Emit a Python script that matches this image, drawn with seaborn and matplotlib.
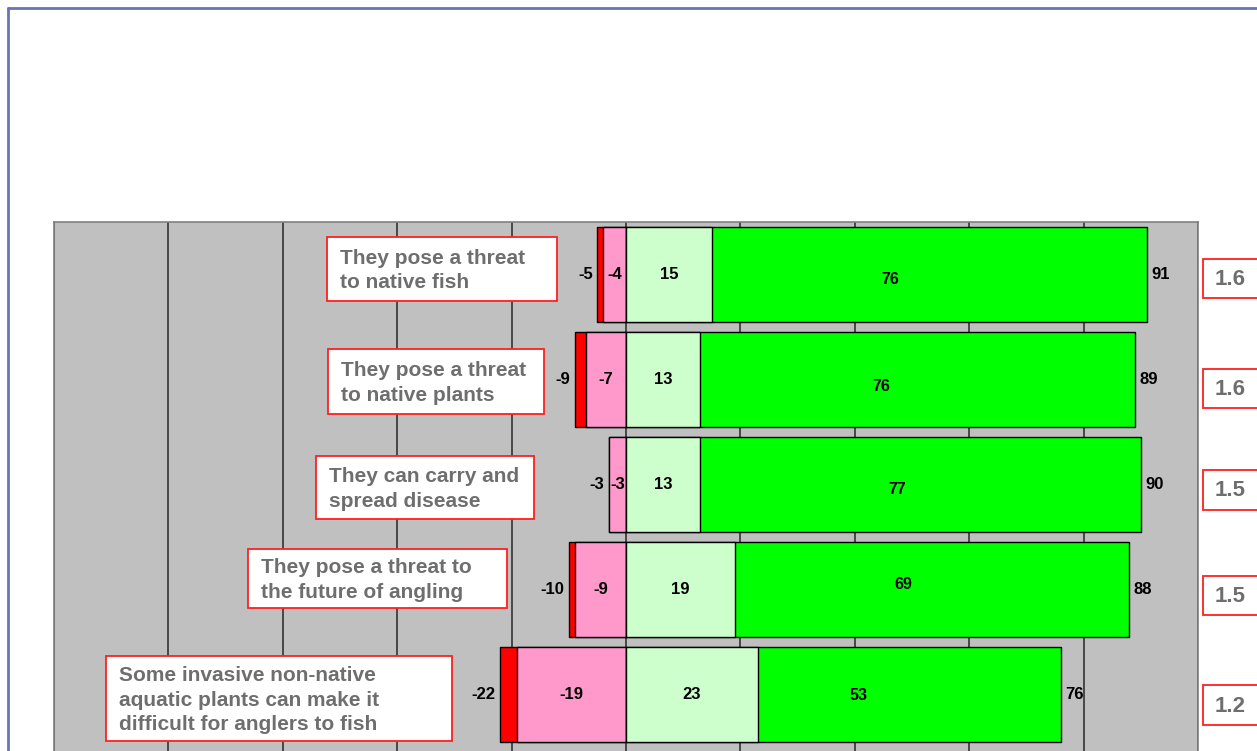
import matplotlib
matplotlib.use("Agg")
import matplotlib.pyplot as plt
import seaborn as sns
import pandas as pd
from matplotlib.patches import Rectangle
from matplotlib.lines import Line2D

# ---- data ----
statements = [
    "They pose a threat\nto native fish",
    "They pose a threat\nto native plants",
    "They can carry and\nspread disease",
    "They pose a threat to\nthe future of angling",
    "Some invasive non-native\naquatic plants can make it\ndifficult for anglers to fish",
]
strongly_disagree = [1, 2, 0, 1, 3]
disagree = [4, 7, 3, 9, 19]
agree = [15, 13, 13, 19, 23]
strongly_agree = [76, 76, 77, 69, 53]
mean_scores = ["1.6", "1.6", "1.5", "1.5", "1.2"]

df = pd.DataFrame({
    "statement": statements,
    "sd": strongly_disagree,
    "d": disagree,
    "a": agree,
    "sa": strongly_agree,
})
df["neg_total"] = -(df["sd"] + df["d"])
df["neg_d"] = -df["d"]
df["pos_total"] = df["a"] + df["sa"]

W, H = 1257, 751
sns.set_theme(style="white")
plt.rcParams["font.family"] = ["Liberation Sans", "DejaVu Sans"]

fig = plt.figure(figsize=(W / 100, H / 100), dpi=100)
fig.patch.set_facecolor("white")

def fx(px):
    return px / W

def fy(py):
    return 1 - py / H

ax_left, ax_right, ax_top, ax_bot = 54, 1198, 222, 760
ax = fig.add_axes([fx(ax_left), fy(ax_bot), fx(ax_right - ax_left), (ax_bot - ax_top) / H])
ax.set_facecolor("#C0C0C0")

bw = 95 / 105
common = dict(y="statement", orient="h", edgecolor="black", linewidth=1,
              width=bw, saturation=1, ax=ax, zorder=3)
sns.barplot(data=df, x="neg_total", color="#FF0000", **common)
sns.barplot(data=df, x="neg_d", color="#FF99CC", **common)
sns.barplot(data=df, x="pos_total", color="#00FF00", **common)
sns.barplot(data=df, x="a", color="#CCFFCC", **common)

ax.set_xlim(-100, 100)
ax.set_ylim(-0.5 + (ax_bot - ax_top) / 105, -0.5)
ax.set_xticks(range(-100, 101, 20))
ax.set_xticklabels([])
ax.set_yticks([])
ax.set_xlabel("")
ax.set_ylabel("")
ax.tick_params(length=0)
ax.grid(axis="x", color="#333333", linewidth=1.2, zorder=0)
ax.set_axisbelow(True)
for s in ax.spines.values():
    s.set_color("#808080")
    s.set_linewidth(1.2)

# ---- value labels ----
sa_dx = [-6.8, -6.3, -4.0, -5.0, -8.8]
sa_dy = [0.043, 0.062, 0.052, -0.052, 0.014]
vkw = dict(fontsize=12, fontweight="bold", color="black", zorder=5, va="center")
for i, row in df.iterrows():
    ax.text(row["neg_total"] - 0.8, i, f"{row['neg_total']}", ha="right", **vkw)
    ax.text(row["neg_d"] / 2, i, f"{row['neg_d']}", ha="center", **vkw)
    ax.text(row["a"] / 2, i, f"{row['a']}", ha="center", **vkw)
    ax.text(row["a"] + row["sa"] / 2 + sa_dx[i], i + sa_dy[i], f"{row['sa']}",
            ha="center", va="center", fontsize=11.5, fontweight="bold", color="black", zorder=5)
    ax.text(row["pos_total"] + 0.8, i, f"{row['pos_total']}", ha="left", **vkw)

# ---- statement boxes (pixel layout) ----
label_boxes = [
    (327, 237, 557, 301),
    (328, 349, 544, 414),
    (316, 456, 534, 519),
    (248, 549, 507, 608),
    (106, 656, 452, 741),
]
for text, (x0, y0, x1, y1) in zip(statements, label_boxes):
    fig.patches.append(Rectangle((fx(x0), fy(y1)), fx(x1 - x0), (y1 - y0) / H,
                                 transform=fig.transFigure, facecolor="white",
                                 edgecolor="#FF2020", linewidth=1.3, zorder=10))
    fig.text(fx(x0 + 13), fy((y0 + y1) / 2 + 1.5), text, ha="left", va="center",
             fontsize=15, fontweight="bold", color="#6E6E6E", linespacing=1.36, zorder=11)

# ---- mean score boxes ----
mean_boxes = [(259, 298), (369, 408), (470, 510), (576, 615), (685, 725)]
for val, (y0, y1) in zip(mean_scores, mean_boxes):
    fig.patches.append(Rectangle((fx(1203), fy(y1)), fx(80), (y1 - y0) / H,
                                 transform=fig.transFigure, facecolor="white",
                                 edgecolor="#FF2020", linewidth=1.3, zorder=10))
    fig.text(fx(1215), fy((y0 + y1) / 2 + 1), val, ha="left", va="center",
             fontsize=16, fontweight="bold", color="#6E6E6E", zorder=11)

# ---- outer frame (left and top only visible) ----
fig.lines.append(Line2D([fx(8), fx(8)], [fy(8), fy(H + 10)], transform=fig.transFigure,
                        color="#6674B8", linewidth=2))
fig.lines.append(Line2D([fx(8), fx(W + 10)], [fy(8), fy(8)], transform=fig.transFigure,
                        color="#6674B8", linewidth=2))

fig.savefig("out.png", dpi=100)
